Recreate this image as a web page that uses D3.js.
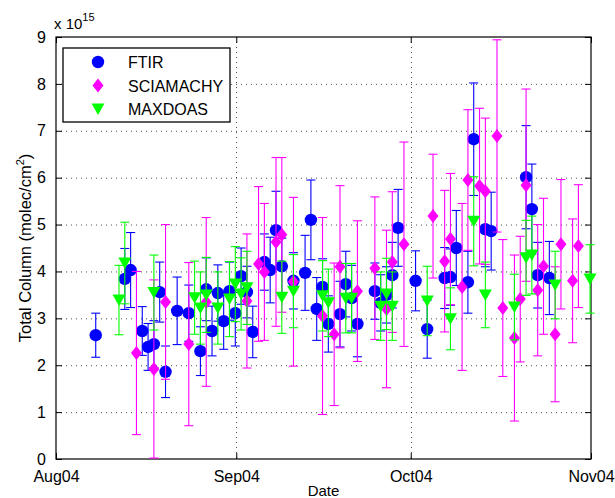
<!DOCTYPE html>
<html><head><meta charset="utf-8">
<script src="https://cdn.jsdelivr.net/npm/d3@7"></script>
<style>body{margin:0;background:#fff}svg{display:block;font-family:"Liberation Sans",Arial,Helvetica,sans-serif}</style>
</head><body><svg id="c" width="615" height="498"></svg>
<script>
// ---------- data (values in 10^15 molec/cm^2) ----------
const xTickDates = ["2004-08-01","2004-09-01","2004-10-01","2004-11-01"];
const xTickLabels = ["Aug04","Sep04","Oct04","Nov04"];
const yTicks = [0,1,2,3,4,5,6,7,8,9];
const seriesNames = ["FTIR","SCIAMACHY","MAXDOAS"];

const ftirDates = ["08-07","08-12","08-13","08-15","08-16","08-17","08-18","08-19","08-21","08-23","08-25","08-26","08-27","08-28","08-29","08-30","08-31","09-01","09-02","09-03","09-05","09-06","09-07","09-08","09-10","09-12","09-13","09-14","09-15","09-16","09-18","09-19","09-20","09-21","09-24","09-25","09-26","09-27","09-28","10-01","10-03","10-06","10-07","10-08","10-10","10-11","10-13","10-14","10-20","10-21","10-22","10-24"];
const ftirValues = [2.64,3.84,4.03,2.73,2.39,2.45,3.56,1.86,3.16,3.11,2.30,3.62,2.73,3.54,2.94,3.58,3.11,3.90,3.56,2.71,4.20,4.03,4.88,4.11,3.80,3.97,5.10,3.20,3.67,2.88,3.09,3.73,3.43,2.88,3.58,3.33,3.50,3.92,4.93,3.80,2.77,3.86,3.88,4.50,3.77,6.82,4.90,4.86,6.01,5.33,3.92,3.86];
const ftirErr = [0.47,0.65,0.8,0.52,0.5,0.5,0.64,0.55,0.72,0.6,0.52,0.67,0.53,0.6,0.6,0.62,0.7,0.6,0.55,0.55,0.6,0.7,0.83,0.6,0.6,0.8,0.85,0.67,0.6,0.6,0.7,0.7,0.7,0.7,0.6,0.6,0.6,0.7,0.82,0.64,0.62,0.65,0.6,0.8,0.66,1.2,0.8,0.83,1.1,0.96,0.7,0.78];

const sciaDates = ["08-14","08-17","08-19","08-23","08-26","09-02","09-04","09-05","09-07","09-08","09-10","09-15","09-17","09-18","09-21","09-24","09-26","09-27","09-29","10-04","10-06","10-07","10-09","10-10","10-12","10-13","10-15","10-16","10-18","10-19","10-20","10-22","10-23","10-25","10-26","10-28","10-29"];
const sciaValues = [2.26,1.92,3.35,2.45,3.35,3.37,4.16,3.99,4.63,4.78,3.78,3.05,2.66,4.10,3.58,4.07,3.20,4.20,4.58,5.18,4.22,4.69,3.67,5.95,5.82,5.71,6.89,3.22,2.58,3.41,5.84,3.60,4.11,2.66,4.58,3.80,4.54];
const sciaErr = [1.74,1.9,1.65,1.74,1.8,1.43,1.65,1.46,1.8,1.65,1.8,2.1,1.52,1.73,1.5,1.52,1.68,1.5,2.18,1.32,1.51,1.4,1.78,1.5,1.66,1.56,2.05,1.46,1.77,1.34,2.05,1.4,1.45,1.44,1.38,1.32,1.31];

const maxDates = ["08-11","08-12","08-17","08-24","08-25","08-26","08-28","08-30","08-31","09-01","09-02","09-08","09-10","09-15","09-16","09-19","09-20","09-25","09-26","09-27","10-03","10-07","10-11","10-13","10-18","10-20","10-21","10-25","10-31"];
const maxValues = [3.39,4.18,3.55,3.44,3.22,3.50,3.22,3.41,3.73,3.52,3.65,3.45,3.58,3.48,3.33,3.43,3.43,3.26,3.52,3.26,3.37,2.99,5.07,3.50,3.24,4.29,4.35,3.71,3.84];
const maxErr = [0.74,0.87,0.8,0.78,0.77,0.8,0.77,0.8,0.8,0.77,0.78,0.77,0.78,0.75,0.72,0.74,0.74,0.73,0.76,0.73,0.74,0.66,0.95,0.7,0.7,0.8,0.83,0.72,0.73];

const year = "2004", obsTime = "T20:00";

// ---------- layout ----------
const W = 615, H = 498;
const m = {left:56, right:24, top:37, bottom:39};
const pw = W - m.left - m.right, ph = H - m.top - m.bottom;
const parse = d3.utcParse("%Y-%m-%d");
const parseT = d3.utcParse("%Y-%m-%dT%H:%M");

const svg = d3.select("#c");
const g = svg.append("g").attr("transform", `translate(${m.left},${m.top})`);

const x = d3.scaleUtc().domain([parse(xTickDates[0]), parse(xTickDates[3])]).range([0, pw]);
const y = d3.scaleLinear().domain([0, 9]).range([ph, 0]);

// grid
const gridStyle = s => s.attr("stroke","#000").attr("stroke-opacity",0.7).attr("stroke-width",1).attr("stroke-dasharray","1,4");
g.append("g").selectAll("line").data(yTicks.slice(1, -1)).join("line")
  .attr("x1",0).attr("x2",pw).attr("y1",d=>y(d)+0.5).attr("y2",d=>y(d)+0.5).call(gridStyle);
g.append("g").selectAll("line").data(xTickDates.slice(1,-1)).join("line")
  .attr("y1",0).attr("y2",ph).attr("x1",d=>Math.round(x(parse(d)))+0.5).attr("x2",d=>Math.round(x(parse(d)))+0.5).call(gridStyle);

// axes
const tickFmt = (d,i) => xTickLabels[i];
const xAxis = g.append("g").attr("transform",`translate(0,${ph})`)
  .call(d3.axisBottom(x).tickValues(xTickDates.map(parse)).tickFormat(tickFmt).tickSizeInner(-6).tickSizeOuter(0).tickPadding(12));
const xAxisTop = g.append("g")
  .call(d3.axisTop(x).tickValues(xTickDates.map(parse)).tickFormat("").tickSizeInner(-6).tickSizeOuter(0));
const yAxis = g.append("g")
  .call(d3.axisLeft(y).tickValues(yTicks).tickFormat(d3.format("d")).tickSizeInner(-6).tickSizeOuter(0).tickPadding(10));
const yAxisR = g.append("g").attr("transform",`translate(${pw},0)`)
  .call(d3.axisRight(y).tickValues(yTicks).tickFormat("").tickSizeInner(-6).tickSizeOuter(0));
[xAxis,xAxisTop,yAxis,yAxisR].forEach(a=>{
  a.select(".domain").remove();
  a.selectAll("text").attr("font-size",16).attr("fill","#000").attr("font-family","Liberation Sans, Arial, sans-serif");
  a.selectAll("line").attr("stroke","#000");
});
g.append("rect").attr("x",0).attr("y",0).attr("width",pw).attr("height",ph)
  .attr("fill","none").attr("stroke","#000").attr("stroke-width",1.2);

// exponent
const ex = svg.append("text").attr("x",54).attr("y",29).attr("font-size",15).attr("fill","#000");
ex.append("tspan").text("x 10");
ex.append("tspan").attr("font-size",11).attr("dy",-8).text("15");

// axis labels
const yl = svg.append("text").attr("transform",`translate(31,${m.top+ph/2}) rotate(-90)`)
  .attr("text-anchor","middle").attr("font-size",16.5).attr("fill","#000");
yl.append("tspan").text("Total Column (molec/cm");
yl.append("tspan").attr("font-size",11).attr("dy",-7).text("2");
yl.append("tspan").attr("dy",7).text(")");
svg.append("text").attr("x",m.left+pw/2).attr("y",496).attr("text-anchor","middle")
  .attr("font-size",15).attr("fill","#000").text("Date");

// markers
const shapes = {
  circle: s => s.append("circle").attr("r",6.2),
  diamond: s => s.append("path").attr("d","M0,-7L5.5,0L0,7L-5.5,0Z"),
  tri: s => s.append("path").attr("d","M-6.5,-5.5L6.5,-5.5L0,6Z")
};
const series = [
  {name:seriesNames[0], dates:ftirDates, vals:ftirValues, err:ftirErr, color:"#0000ff", shape:"circle"},
  {name:seriesNames[1], dates:sciaDates, vals:sciaValues, err:sciaErr, color:"#ff00ff", shape:"diamond"},
  {name:seriesNames[2], dates:maxDates, vals:maxValues, err:maxErr, color:"#00ff00", shape:"tri"}
];
const cap = 4.5;
series.forEach(s=>{
  const data = s.dates.map((d,i)=>({t:parseT(`${year}-${d}${obsTime}`), v:s.vals[i], e:s.err[i]}));
  const eg = g.append("g").attr("stroke",s.color).attr("stroke-width",1.1).attr("fill","none");
  data.forEach(d=>{
    const cx = x(d.t), y1 = y(Math.max(0,d.v-d.e)), y2 = y(d.v+d.e);
    eg.append("line").attr("x1",cx).attr("x2",cx).attr("y1",y1).attr("y2",y2);
    eg.append("line").attr("x1",cx-cap).attr("x2",cx+cap).attr("y1",y1).attr("y2",y1);
    eg.append("line").attr("x1",cx-cap).attr("x2",cx+cap).attr("y1",y2).attr("y2",y2);
  });
  const mg = g.append("g").attr("fill",s.color).attr("stroke","none");
  data.forEach(d=>{
    const p = mg.append("g").attr("transform",`translate(${x(d.t)},${y(d.v)})`);
    shapes[s.shape](p);
  });
});

// legend
const lg = svg.append("g").attr("transform","translate(63,48)");
lg.append("rect").attr("width",167).attr("height",74).attr("fill","#fff").attr("stroke","#000").attr("stroke-width",1.3);
series.forEach((s,i)=>{
  const row = lg.append("g").attr("transform",`translate(35,${14+i*23.5})`);
  const mk = row.append("g").attr("fill",s.color);
  shapes[s.shape](mk);
  row.append("text").attr("x",30).attr("y",6).attr("font-size",16).attr("fill","#000").text(s.name);
});
</script>
</body></html>
